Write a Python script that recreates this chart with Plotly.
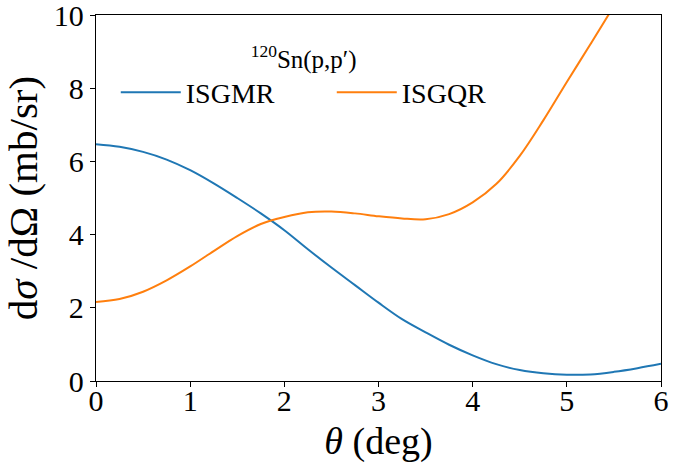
import plotly.graph_objects as go

# Scattering angle grid (deg)
theta = [0.0, 0.25, 0.5, 0.75, 1.0, 1.25, 1.5, 1.75, 2.0, 2.25, 2.5, 2.75, 3.0,
         3.25, 3.5, 3.75, 4.0, 4.25, 4.5, 4.75, 5.0, 5.25, 5.5, 5.75, 6.0]

# Differential cross sections (mb/sr)
isgmr = [6.47, 6.40, 6.26, 6.05, 5.76, 5.40, 5.00, 4.58, 4.12, 3.60, 3.10, 2.62, 2.14,
         1.69, 1.33, 0.99, 0.70, 0.46, 0.30, 0.21, 0.17, 0.18, 0.25, 0.35, 0.47]
isgqr = [2.16, 2.24, 2.44, 2.75, 3.13, 3.55, 3.96, 4.29, 4.48, 4.61, 4.63, 4.58, 4.50,
         4.44, 4.42, 4.56, 4.88, 5.38, 6.15, 7.12, 8.17, 9.20, 10.25, 11.35, 12.5]

x_ticks = [0, 1, 2, 3, 4, 5, 6]
y_ticks = [0, 2, 4, 6, 8, 10]

FONT = "Liberation Serif"

fig = go.Figure()
fig.add_trace(go.Scatter(x=theta, y=isgmr, mode="lines", name="ISGMR",
                         line=dict(color="#1f77b4", width=2, shape="spline")))
fig.add_trace(go.Scatter(x=theta, y=isgqr, mode="lines", name="ISGQR",
                         line=dict(color="#ff7f0e", width=2, shape="spline")))

axis_common = dict(showline=True, linecolor="black", linewidth=1.3, mirror=True,
                   ticks="outside", ticklen=5, tickwidth=1.2, tickcolor="black",
                   showgrid=False, zeroline=False, ticklabeloverflow="allow",
                   automargin=False,
                   tickfont=dict(family=FONT, size=30, color="black"))

fig.update_xaxes(range=[0, 6], tickvals=x_ticks, ticklabelstandoff=-12,
                 title=dict(text="<i>θ</i> (deg)", font=dict(family=FONT, size=38, color="black")),
                 **axis_common)
fig.update_yaxes(range=[0, 10], tickvals=y_ticks,
                 title=dict(text="d<i>σ</i> /dΩ (mb/sr)", font=dict(family=FONT, size=41, color="black")),
                 **axis_common)

# legend title, padded on the right so it sits centred over the entries' text
legend_title = "<sup>120</sup>Sn(p,p′)" + "\u00a0" * 9

fig.update_layout(
    width=696, height=463,
    margin=dict(l=96, r=35, t=15, b=82, autoexpand=False),
    paper_bgcolor="white", plot_bgcolor="white",
    font=dict(family=FONT, color="black"),
    showlegend=True,
    legend=dict(orientation="h", x=0.035, y=0.945, xanchor="left", yanchor="top",
                bgcolor="rgba(0,0,0,0)", borderwidth=0,
                font=dict(family=FONT, size=28, color="black"),
                title=dict(text=legend_title, side="top center",
                           font=dict(family=FONT, size=25, color="black")),
                itemwidth=60,
                entrywidth=141, entrywidthmode="pixels"),
)

fig.write_html("out.html")
